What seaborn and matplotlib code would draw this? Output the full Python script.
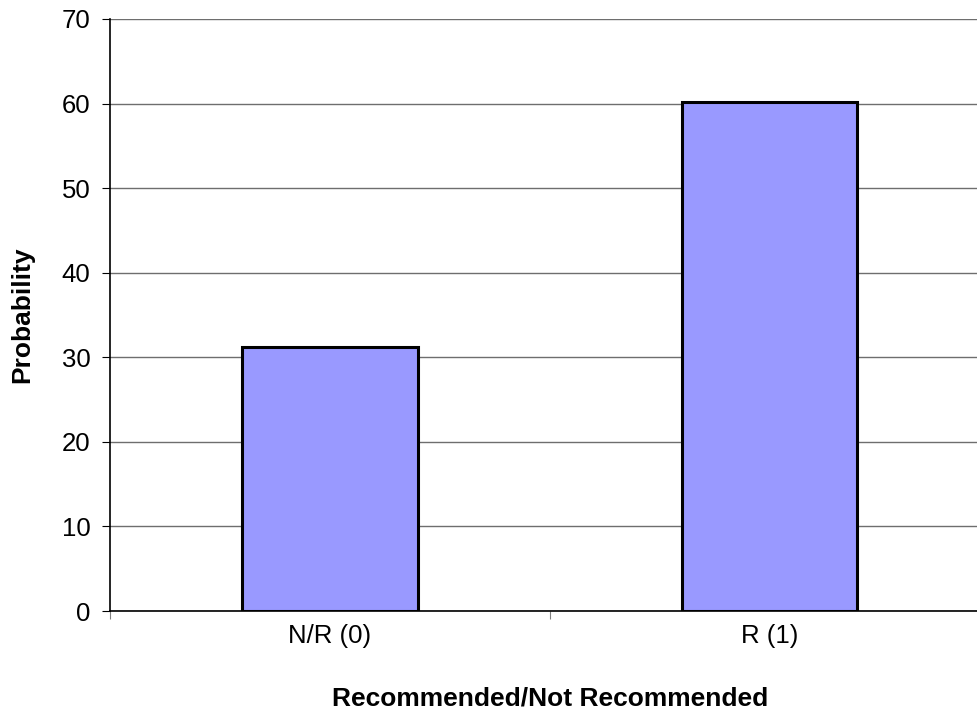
import matplotlib
matplotlib.use("Agg")
import matplotlib.pyplot as plt
import seaborn as sns
import pandas as pd

categories = ["N/R (0)", "R (1)"]
probability = [31.2, 60.2]
y_ticks = [0, 10, 20, 30, 40, 50, 60, 70]

df = pd.DataFrame({"group": categories, "prob": probability})

sns.set_theme(style="white")
plt.rcParams["font.family"] = ["Liberation Sans", "DejaVu Sans"]
plt.rcParams["text.color"] = "black"
plt.rcParams["axes.labelcolor"] = "black"
plt.rcParams["xtick.color"] = "black"
plt.rcParams["ytick.color"] = "black"

fig = plt.figure(figsize=(9.77, 7.19), dpi=100)
ax = fig.add_axes([0.1126, 0.1502, 0.9, 0.8234])

sns.barplot(data=df, x="group", y="prob", ax=ax, color="#9999FF",
            saturation=1, width=0.4, edgecolor="black", linewidth=2.2, zorder=3)

ax.set_xlim(-0.5, 1.5)
ax.set_ylim(0, 70)
ax.set_yticks(y_ticks)
ax.set_yticklabels([str(v) for v in y_ticks], fontsize=18.5)
ax.yaxis.grid(True, color="#6e6e6e", linewidth=1.0, zorder=0)
ax.set_axisbelow(True)

# category ticks sit at the boundaries between groups
ax.set_xticks([0, 1])
ax.set_xticklabels(categories, fontsize=18.5)
ax.tick_params(axis="x", length=0, pad=9)
ax.set_xticks([-0.5, 0.5, 1.5], minor=True)
ax.tick_params(axis="x", which="minor", length=6, width=0.8, color="#808080", direction="out", bottom=True)
ax.tick_params(axis="y", length=6, width=0.8, color="black", direction="out", left=True, pad=8)

for side in ["top", "right"]:
    ax.spines[side].set_visible(False)
for side in ["left", "bottom"]:
    ax.spines[side].set_color("black")
    ax.spines[side].set_linewidth(1.2)

ax.set_xlabel("Recommended/Not Recommended", fontsize=19, fontweight="bold", labelpad=28)
ax.set_ylabel("Probability", fontsize=19, fontweight="bold", labelpad=20)

fig.savefig("out.png", dpi=100)
